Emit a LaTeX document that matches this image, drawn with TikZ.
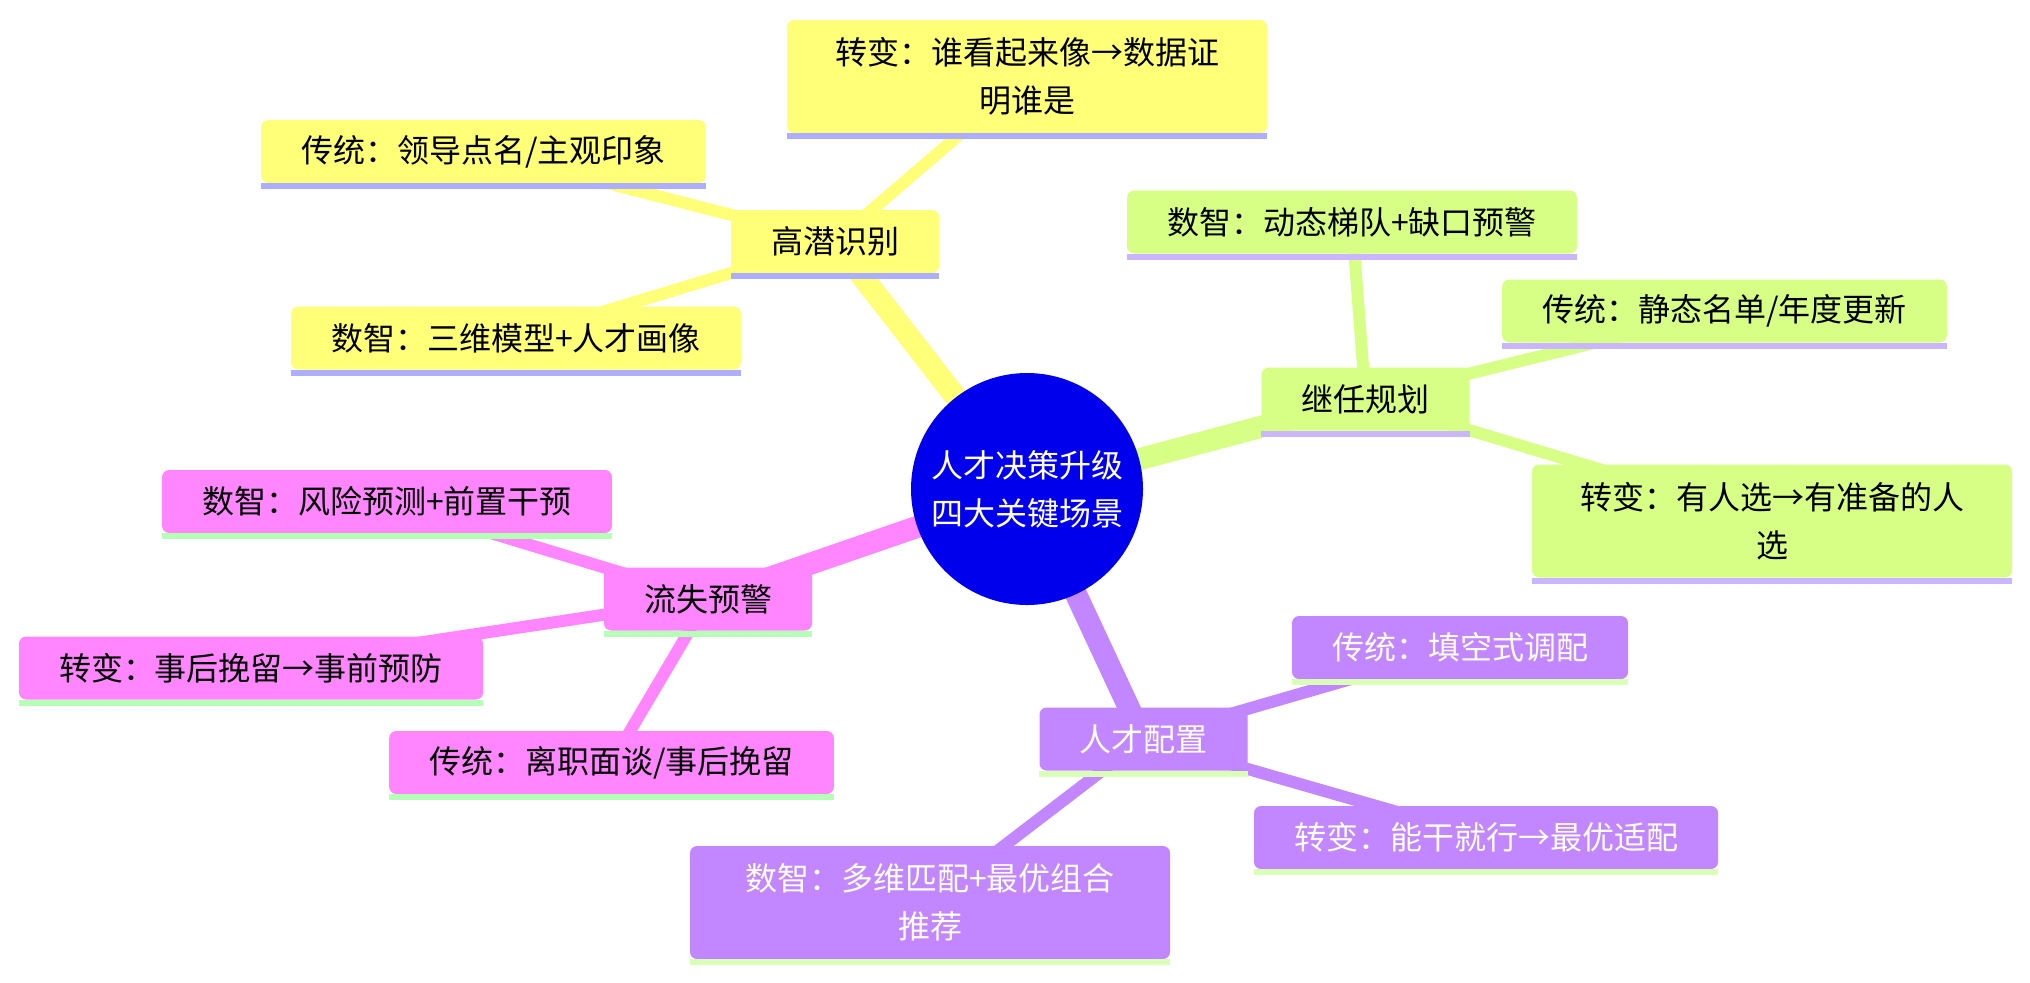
\documentclass[tikz,border=0pt]{standalone}
\usepackage{fontspec}
\usepackage{tikz}
\usetikzlibrary{backgrounds}
\newfontfamily\cjk{Noto Sans CJK SC}
\definecolor{rootblue}{HTML}{0000EC}
\definecolor{ylw}{HTML}{FFFF78}
\definecolor{grn}{HTML}{D7FF86}
\definecolor{prp}{HTML}{C286FF}
\definecolor{pnk}{HTML}{FF86FF}
\definecolor{ylwline}{HTML}{AEAEFF}
\definecolor{grnline}{HTML}{C9B6FF}
\definecolor{prpline}{HTML}{DAFFB6}
\definecolor{pnkline}{HTML}{B6FFB6}

\begin{document}
\begin{tikzpicture}[x=0.5pt,y=-0.5pt,
  every node/.style={font=\cjk\fontsize{16}{24}\selectfont, align=center},
  topic/.style={fill=#1, rounded corners=3.5pt, inner xsep=20pt, inner ysep=0pt, minimum height=31.5pt},
  wrapped/.style={topic=#1, minimum width=240pt, minimum height=56.5pt},
  trunk/.style={draw=#1, line width=11pt},
  twig/.style={draw=#1, line width=6pt},
  underline/.style={draw=#1, line width=3pt}]
  \useasboundingbox (0,0) rectangle (2030,982);

  \node[circle, fill=rootblue, text=white, minimum size=116pt, inner sep=0pt] (root) at (1027,489) {人才决策升级\\四大关键场景};

  \node[topic=ylw] (hipo) at (835,241.5) {高潜识别};
  \node[wrapped=ylw] (hipoShift) at (1027,76.5) {转变：谁看起来像→数据证\\明谁是};
  \node[topic=ylw] (hipoOld) at (483.5,151.5) {传统：领导点名/主观印象};
  \node[topic=ylw] (hipoDig) at (516,338) {数智：三维模型+人才画像};

  \node[topic=grn] (succ) at (1365.5,399) {继任规划};
  \node[topic=grn] (succDig) at (1352,222) {数智：动态梯队+缺口预警};
  \node[topic=grn] (succOld) at (1724.5,311) {传统：静态名单/年度更新};
  \node[wrapped=grn] (succShift) at (1772,521) {转变：有人选→有准备的人\\选};

  \node[topic=prp, text=white] (deploy) at (1143.5,739) {人才配置};
  \node[topic=prp, text=white] (deployOld) at (1460,647.5) {传统：填空式调配};
  \node[topic=prp, text=white] (deployShift) at (1486,837.5) {转变：能干就行→最优适配};
  \node[wrapped=prp, text=white] (deployDig) at (930,902.5) {数智：多维匹配+最优组合\\推荐};

  \node[topic=pnk] (churn) at (708,599) {流失预警};
  \node[topic=pnk] (churnDig) at (387,501.5) {数智：风险预测+前置干预};
  \node[topic=pnk] (churnShift) at (251,668) {转变：事后挽留→事前预防};
  \node[topic=pnk] (churnOld) at (611.5,762.5) {传统：离职面谈/事后挽留};

  \foreach \n/\c in {hipo/ylwline, hipoShift/ylwline, hipoOld/ylwline, hipoDig/ylwline,
                     succ/grnline, succDig/grnline, succOld/grnline, succShift/grnline,
                     deploy/prpline, deployOld/prpline, deployShift/prpline, deployDig/prpline,
                     churn/pnkline, churnDig/pnkline, churnShift/pnkline, churnOld/pnkline}
    \draw[underline=\c] ([yshift=-1.5pt]\n.south west) -- ([yshift=-1.5pt]\n.south east);

  \begin{scope}[on background layer]
    \draw[trunk=ylw] (root.center) -- (hipo.center);
    \draw[trunk=grn] (root.center) -- (succ.center);
    \draw[trunk=prp] (root.center) -- (deploy.center);
    \draw[trunk=pnk] (root.center) -- (churn.center);

    \draw[twig=ylw] (hipo.center) -- (hipoShift.center);
    \draw[twig=ylw] (hipo.center) -- (hipoOld.center);
    \draw[twig=ylw] (hipo.center) -- (hipoDig.center);
    \draw[twig=grn] (succ.center) -- (succDig.center);
    \draw[twig=grn] (succ.center) -- (succOld.center);
    \draw[twig=grn] (succ.center) -- (succShift.center);
    \draw[twig=prp] (deploy.center) -- (deployOld.center);
    \draw[twig=prp] (deploy.center) -- (deployShift.center);
    \draw[twig=prp] (deploy.center) -- (deployDig.center);
    \draw[twig=pnk] (churn.center) -- (churnDig.center);
    \draw[twig=pnk] (churn.center) -- (churnShift.center);
    \draw[twig=pnk] (churn.center) -- (churnOld.center);
  \end{scope}
\end{tikzpicture}
\end{document}
